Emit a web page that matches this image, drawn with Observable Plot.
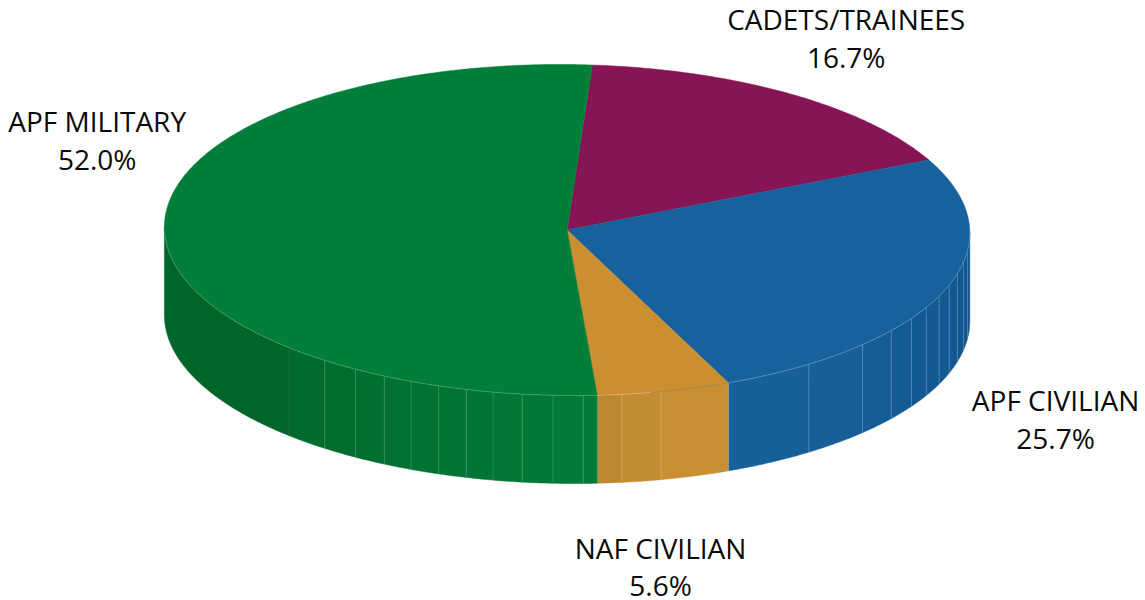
<!DOCTYPE html>
<html>
<head>
<meta charset="utf-8">
<script src="https://cdn.jsdelivr.net/npm/d3@7"></script>
<script src="https://cdn.jsdelivr.net/npm/@observablehq/plot@0.6"></script>
<style>html,body{margin:0;padding:0;background:#fff}svg{display:block}</style>
</head>
<body>
<script>
// Data
const categories = ["CADETS/TRAINEES", "APF CIVILIAN", "NAF CIVILIAN", "APF MILITARY"];
const shares = [16.7, 25.7, 5.6, 52.0];
// slice edges on the drawn pie, degrees clockwise from the back of the disc
const sliceEdges = [3.6, 63.9, 156.4, 175.7, 363.6];
// facet edges seen on the rim of the disc, degrees
const blueFacetEdges = [90, 96.2, 100.2, 104.3, 108.4, 112.5, 116.9, 121.2, 126.4, 132.8, 143.1, 156.4];
const goldFacetEdges = [156.4, 166.5, 172.2, 175.7];
const greenFacetEdges = [175.7, 177.7, 182, 186.4, 190.6, 194.5, 198.6, 202.8, 207, 211.7, 217, 223.7, 270];

// Styles
const topColors = ["#871454", "#17619c", "#cb8f31", "#007e3a"];
const blueShades = ["#125690", "#125690", "#125690", "#125791", "#125892", "#135993", "#135a94", "#145b95", "#155d97", "#165f99", "#17619b"];
const goldShades = ["#c88f32", "#c38c31", "#bd892e"];
const greenShades = ["#007a38", "#007a38", "#007937", "#007736", "#007535", "#007434", "#007233", "#007132", "#006f31", "#006d30", "#006b2f", "#00652b"];

// Disc geometry in units of the minor semi-axis on y and the major semi-axis on x
const depth = 88 / 165.5;
const tilt = 3 / 165.5;
const rad = d => d * Math.PI / 180;
const rimPoint = (deg, drop = 0) => ({
  x: Math.sin(rad(deg)),
  y: Math.cos(rad(deg)) - tilt * Math.sin(rad(deg)) - drop
});
const arc = (a0, a1, drop = 0) => {
  const n = Math.max(2, Math.ceil(Math.abs(a1 - a0) * 2));
  return d3.range(n + 1).map(i => rimPoint(a0 + (a1 - a0) * i / n, drop));
};
const apex = {x: 0, y: 0};
const sliceRing = i => [apex, ...arc(sliceEdges[i], sliceEdges[i + 1]), apex];
const facetRing = (a0, a1) => [...arc(a0, a1), ...arc(a1, a0, depth), rimPoint(a0)];
const fill = (ring, color) => Plot.line(ring, {x: "x", y: "y", fill: color, stroke: color, strokeWidth: 0.5, curve: "linear"});

const facetMarks = (edges, shades) => d3.pairs(edges).map(([a, b], i) => fill(facetRing(a, b), shades[i]));
const seamMarks = (edges, stroke, opacity) => edges.map(a =>
  Plot.line([rimPoint(a), rimPoint(a, depth)], {x: "x", y: "y", stroke, strokeOpacity: opacity, strokeWidth: 0.7}));
const rimMark = (a0, a1, stroke, opacity) =>
  Plot.line(arc(a0, a1), {x: "x", y: "y", stroke, strokeOpacity: opacity, strokeWidth: 0.6});

// Label anchors, in the same disc units
const labelAnchors = [[0.693, 1.166], [1.213, -1.136], [0.232, -2.026], [-1.167, 0.552]];
const labels = categories.map((c, i) => ({
  text: `${c}\n${shares[i].toFixed(1)}%`, x: labelAnchors[i][0], y: labelAnchors[i][1]
}));

const chart = Plot.plot({
  width: 1145,
  height: 600,
  margin: 0,
  x: {axis: null, domain: [-566.6 / 402.7, (1145 - 566.6) / 402.7], range: [0, 1145]},
  y: {axis: null, domain: [229.5 / 165.5, (229.5 - 600) / 165.5], range: [0, 600]},
  marks: [
    ...facetMarks(blueFacetEdges, blueShades),
    ...facetMarks(goldFacetEdges, goldShades),
    ...facetMarks(greenFacetEdges, greenShades),
    ...seamMarks(blueFacetEdges.slice(1, -1), "#ffffff", 0.3),
    ...seamMarks(goldFacetEdges.slice(1, -1), "#ffffff", 0.3),
    ...seamMarks([156.4, 175.7], "#ffffff", 0.25),
    ...seamMarks(greenFacetEdges.slice(1, -2), "#ffffff", 0.24),
    ...topColors.map((c, i) => fill(sliceRing(i), c)),
    rimMark(90, 156.4, "#ffffff", 0.4),
    rimMark(156.4, 168, "#7d7a5c", 0.8),
    rimMark(168, 178, "#ffffff", 0.4),
    rimMark(178, 268, "#ffffff", 0.35),
    Plot.text(labels, {
      x: d => d.x, y: d => d.y, text: "text",
      fontFamily: "Open Sans", fontSize: 28, lineHeight: 1.35, fill: "#0a0a0a", textAnchor: "middle"
    })
  ]
});
document.body.appendChild(chart);
</script>
</body>
</html>
